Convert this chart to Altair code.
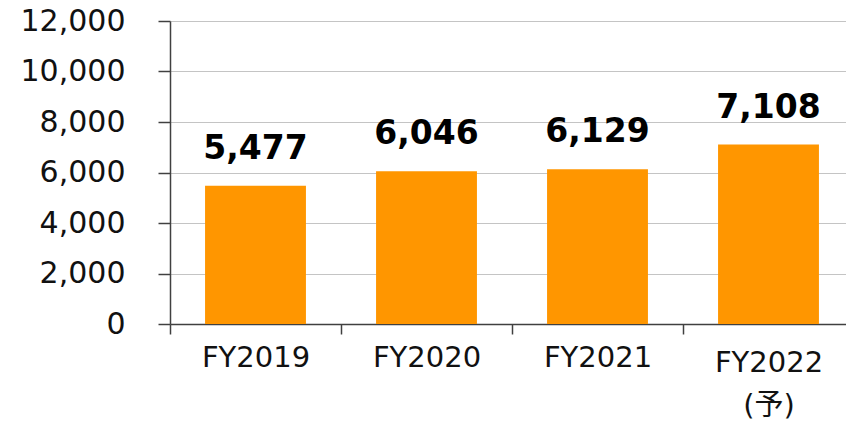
import altair as alt
import pandas as pd

categories = ["FY2019", "FY2020", "FY2021", "FY2022"]
values = [5477, 6046, 6129, 7108]
y_ticks = [0, 2000, 4000, 6000, 8000, 10000, 12000]

df = pd.DataFrame({"year": categories, "value": values})

FONT = "DejaVu Sans, Noto Sans CJK JP"

x = alt.X(
    "year:N",
    sort=categories,
    title=None,
    scale=alt.Scale(paddingInner=0, paddingOuter=0, range=[0, 684]),
    axis=alt.Axis(
        labelAngle=0,
        labelFont=FONT,
        labelFontSize=29,
        labelColor="#111111",
        labelBaseline="top",
        labelPadding={"condition": {"test": "datum.value == 'FY2022'", "value": 14}, "value": 9},
        labelLineHeight=43,
        labelExpr="datum.value == 'FY2022' ? ['FY2022', '(予)'] : datum.value",
        tickBand="extent",
        tickSize=10,
        tickColor="#404040",
        tickWidth=1.5,
        domainColor="#404040",
        domainWidth=1.5,
        grid=False,
    ),
)

y = alt.Y(
    "value:Q",
    title=None,
    scale=alt.Scale(domain=[0, 12000], nice=False),
    axis=alt.Axis(
        values=y_ticks,
        format=",d",
        labelFont=FONT,
        labelFontSize=30,
        labelColor="#111111",
        labelPadding=33,
        tickSize=12,
        tickColor="#404040",
        tickWidth=1.5,
        domainColor="#404040",
        domainWidth=1.5,
        grid=True,
        gridColor="#C4C4C4",
        gridWidth=1,
    ),
)

bars = alt.Chart(df).mark_bar(color="#FF9600", width=alt.RelativeBandSize(0.59)).encode(x=x, y=y)

labels = alt.Chart(df).mark_text(
    font="DejaVu Sans",
    fontWeight="bold",
    fontSize=33,
    baseline="alphabetic",
    dy=-27,
    color="#000000",
).encode(x=alt.X("year:N", sort=categories), y="value:Q", text=alt.Text("value:Q", format=",d"))

chart = (
    alt.layer(bars, labels)
    .properties(
        width=676,
        height=303,
        autosize=alt.AutoSizeParams(type="none"),
        padding={"left": 162, "top": 13, "right": 0, "bottom": 96},
    )
    .configure_view(stroke=None)
)

chart.save("out.html", embed_options={"renderer": "svg", "actions": False})
